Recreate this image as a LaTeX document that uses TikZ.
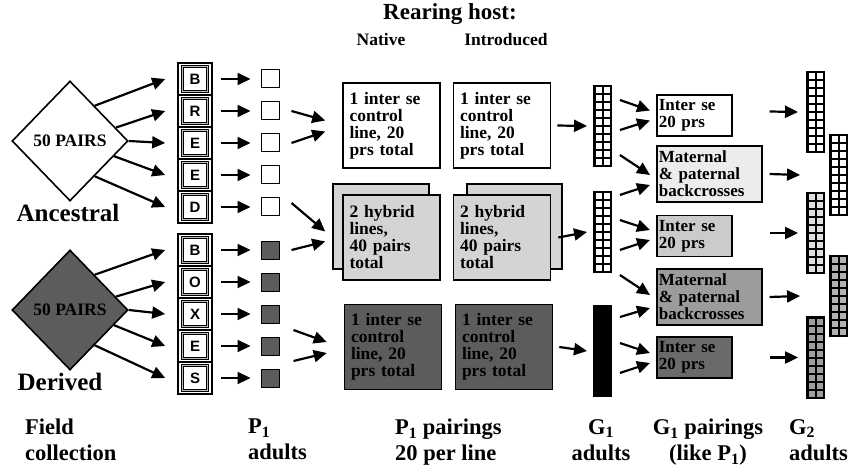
\documentclass[tikz,border=0pt]{standalone}
\usepackage{fontspec}
\setmainfont{Liberation Serif}
\setsansfont{Liberation Sans}
\usepackage{tikz}
\usetikzlibrary{calc}
\usetikzlibrary{arrows.meta}
\usetikzlibrary{shapes.geometric}

\definecolor{darkbox}{HTML}{5C5C5C}
\definecolor{hybridbox}{HTML}{D4D4D4}
\definecolor{backpale}{HTML}{ECECEC}
\definecolor{intergray}{HTML}{CBCBCB}
\definecolor{backmid}{HTML}{9C9C9C}
\definecolor{interdark}{HTML}{6A6A6A}

\tikzset{
  fat/.style={-{Triangle[length=13pt,width=12pt]}, line width=2.2pt},
  pairbox/.style={draw, line width=1.6pt, minimum width=97pt, minimum height=85pt,
    text width=84pt, align=left, inner sep=0pt,
    font=\fontsize{17.5}{17}\selectfont\bfseries},
  crossbox/.style={draw, line width=1.6pt, anchor=west, align=left, inner sep=2pt,
    font=\fontsize{17}{17}\selectfont\bfseries},
  letterbox/.style={draw=black, line width=0.6pt, double=gray!55, double distance=0.9pt,
    minimum width=25pt, minimum height=25pt, inner sep=0pt,
    font=\fontsize{15}{15}\selectfont\sffamily\bfseries},
  sqbox/.style={draw, line width=1pt, minimum size=18pt, inner sep=0pt},
  colbox/.style={fill=black, minimum width=18.5pt, minimum height=82.5pt, inner sep=0pt},
  biglabel/.style={font=\fontsize{22.5}{26}\selectfont\bfseries, inner sep=0pt},
}

% column of 2 x 10 cells: name, centre, cell colour
\newcommand{\cellcol}[3]{%
  \node[colbox] (#1) at (#2) {};
  \foreach \r in {0,...,9} \foreach \c in {0,1}
    \fill[#3] ($(#1.north west)+(2.5+8*\c,2.5+8*\r)$) rectangle +(6,6);
}

\begin{document}
\begin{tikzpicture}[x=1pt,y=-1pt]
\useasboundingbox (0,0) rectangle (850,470);

\node[font=\fontsize{23}{26}\selectfont\bfseries] (rear) at (450,14) {Rearing host:};
\node[font=\fontsize{17.5}{20}\selectfont\bfseries] (nat) at (381,40) {Native};
\node[font=\fontsize{17.5}{20}\selectfont\bfseries] (intro) at (506,40) {Introduced};

% field collection
\node[diamond, draw, line width=1.6pt, minimum width=116pt, minimum height=120pt, inner sep=0pt,
  font=\fontsize{17.5}{18}\selectfont\bfseries] (anc) at (70,141) {50 PAIRS};
\node[diamond, draw, fill=darkbox, line width=1.6pt, minimum width=116pt, minimum height=120pt, inner sep=0pt,
  font=\fontsize{17.5}{18}\selectfont\bfseries] (der) at (70,310) {50 PAIRS};
\node[biglabel, font=\fontsize{25}{28}\selectfont\bfseries] (anclab) at (68,213) {Ancestral};
\node[biglabel, font=\fontsize{25}{28}\selectfont\bfseries] (derlab) at (60,382) {Derived};

\foreach \l [count=\i] in {B,R,E,E,D} {
  \draw[line width=1.2pt] (178,31+32*\i) rectangle +(34,32);
  \node[letterbox] (a\i) at (195,47+32*\i) {\l};
  \node[sqbox] (p\i) at (270,47+32*\i) {};
}
\foreach \l [count=\i] in {B,O,X,E,S} {
  \draw[line width=1.2pt] (178,202+32*\i) rectangle +(34,32);
  \node[letterbox] (d\i) at (195,218+32*\i) {\l};
  \node[sqbox, fill=darkbox] (q\i) at (270,218+32*\i) {};
}

\draw[fat] ($(anc.north)!0.42!(anc.east)$) -- ([xshift=-17pt]a1.west);
\draw[fat] ($(anc.north)!0.78!(anc.east)$) -- ([xshift=-17pt]a2.west);
\draw[fat] (anc.east) -- ([xshift=-17pt]a3.west);
\draw[fat] ($(anc.east)!0.25!(anc.south)$) -- ([xshift=-17pt]a4.west);
\draw[fat] ($(anc.east)!0.58!(anc.south)$) -- ([xshift=-17pt]a5.west);

\draw[fat] ($(der.north)!0.42!(der.east)$) -- ([xshift=-17pt]d1.west);
\draw[fat] ($(der.north)!0.78!(der.east)$) -- ([xshift=-17pt]d2.west);
\draw[fat] (der.east) -- ([xshift=-17pt]d3.west);
\draw[fat] ($(der.east)!0.25!(der.south)$) -- ([xshift=-17pt]d4.west);
\draw[fat] ($(der.east)!0.58!(der.south)$) -- ([xshift=-17pt]d5.west);

\foreach \i in {1,...,5} {
  \draw[fat] ([xshift=13pt]a\i.east) -- ([xshift=-10pt]p\i.west);
  \draw[fat] ([xshift=13pt]d\i.east) -- ([xshift=-10pt]q\i.west);
}

% P1 pairings
\filldraw[fill=hybridbox, line width=1.6pt] (333,184) rectangle (429,269);
\filldraw[fill=hybridbox, line width=1.6pt] (467,184) rectangle (562,269);

\node[pairbox, fill=white] (natA) at (391.5,125.5) {1 inter se\\control\\line, 20\\prs total};
\node[pairbox, fill=white] (intA) at (502,125.5) {1 inter se\\control\\line, 20\\prs total};
\node[pairbox, fill=hybridbox] (natH) at (391.5,237.5) {2 hybrid\\lines,\\40 pairs\\total};
\node[pairbox, fill=hybridbox] (intH) at (502,237.5) {2 hybrid\\lines,\\40 pairs\\total};
\node[pairbox, fill=darkbox] (natD) at (393,347) {1 inter se\\control\\line, 20\\prs total};
\node[pairbox, fill=darkbox] (intD) at (504,347) {1 inter se\\control\\line, 20\\prs total};

\draw[fat] ([xshift=12pt]p2.east) -- ([xshift=-17pt,yshift=5pt]natA.west);
\draw[fat] ([xshift=12pt]p3.east) -- ([xshift=-17pt,yshift=-6pt]natA.west);
\draw[fat] ([xshift=12pt,yshift=4pt]p5.east) -- ([xshift=-17pt,yshift=6pt]natH.west);
\draw[fat] ([xshift=12pt]q1.east) -- ([xshift=-17pt,yshift=-4pt]natH.west);
\draw[fat] ([xshift=14pt,yshift=16pt]q4.east) -- ([xshift=-17pt,yshift=5pt]natD.west);
\draw[fat] ([xshift=14pt,yshift=-15pt]q4.east) -- ([xshift=-17pt,yshift=-6pt]natD.west);

% G1 adults
\cellcol{g1a}{602.5,126}{white}
\cellcol{g1b}{602.5,232}{white}
\node[colbox, minimum height=92pt] (g1c) at (602.5,351) {};

\draw[fat] ([xshift=6pt]intA.east) -- ([xshift=-6pt]g1a.west);
\draw[fat] ([xshift=7pt]intH.east) -- ([xshift=-6pt]g1b.west);
\draw[fat] ([xshift=6pt]intD.east) -- ([xshift=-6pt]g1c.west);

% G1 pairings
\node[crossbox, fill=white, text width=71pt, minimum height=41pt] (ise1) at (656,115.5) {Inter se\\20 prs};
\node[crossbox, fill=backpale, text width=101pt, minimum height=56pt] (mat1) at (656,174) {Maternal\\\& paternal\\backcrosses};
\node[crossbox, fill=intergray, text width=71pt, minimum height=41pt] (ise2) at (656,236) {Inter se\\20 prs};
\node[crossbox, fill=backmid, text width=101pt, minimum height=56pt] (mat2) at (656,297) {Maternal\\\& paternal\\backcrosses};
\node[crossbox, fill=interdark, text width=71pt, minimum height=41pt] (ise3) at (656,357.5) {Inter se\\20 prs};

\draw[fat] ([xshift=8pt,yshift=26pt]g1a.east) -- ([xshift=-6pt,yshift=5pt]ise1.west);
\draw[fat] ([xshift=8pt,yshift=-4pt]g1a.east) -- ([xshift=-6pt,yshift=-5pt]ise1.west);
\draw[fat] ([xshift=8pt,yshift=-29pt]g1a.east) -- ([xshift=-6pt,yshift=-1pt]mat1.west);
\draw[fat] ([xshift=8pt,yshift=37pt]g1b.east) -- ([xshift=-6pt,yshift=-11pt]mat1.west);
\draw[fat] ([xshift=8pt,yshift=12pt]g1b.east) -- ([xshift=-6pt,yshift=6pt]ise2.west);
\draw[fat] ([xshift=8pt,yshift=-18pt]g1b.east) -- ([xshift=-6pt,yshift=-4pt]ise2.west);
\draw[fat] ([xshift=8pt,yshift=-43pt]g1b.east) -- ([xshift=-6pt,yshift=2pt]mat2.west);
\draw[fat] ([xshift=8pt,yshift=34pt]g1c.east) -- ([xshift=-6pt,yshift=-11pt]mat2.west);
\draw[fat] ([xshift=8pt,yshift=8pt]g1c.east) -- ([xshift=-6pt,yshift=4.5pt]ise3.west);
\draw[fat] ([xshift=8pt,yshift=-22pt]g1c.east) -- ([xshift=-6pt,yshift=-5.5pt]ise3.west);

% G2 adults
\cellcol{g2a}{815.5,112}{white}
\cellcol{g2b}{838.5,175}{white}
\cellcol{g2c}{815.5,233}{gray!25}
\cellcol{g2d}{838.5,296}{gray!60}
\cellcol{g2e}{815.5,357.5}{gray!75}

\draw[fat] ([xshift=37pt,yshift=4pt]ise1.east) -- ([xshift=-8pt]g2a.west);
\draw[fat] ([xshift=7pt]mat1.east) -- ([xshift=-29pt]g2b.west);
\draw[fat] ([xshift=37pt,yshift=3pt]ise2.east) -- ([xshift=-8pt]g2c.west);
\draw[fat] ([xshift=7pt]mat2.east) -- ([xshift=-29pt]g2d.west);
\draw[fat] ([xshift=37pt]ise3.east) -- ([xshift=-8pt]g2e.west);

% stages
\node[biglabel, align=left, anchor=north west] (field) at (25,419) {Field\\collection};
\node[biglabel, align=left, anchor=north west] (p1lab) at (248,419) {P\textsubscript{1}\\adults};
\node[biglabel, align=left, anchor=north west] (pairlab) at (395,419) {P\textsubscript{1} pairings\\20 per line};
\node[biglabel, align=center, anchor=north] (g1lab) at (601,419) {G\textsubscript{1}\\adults};
\node[biglabel, align=center, anchor=north] (g1pair) at (708,419) {G\textsubscript{1} pairings\\(like P\textsubscript{1})};
\node[biglabel, align=left, anchor=north west] (g2lab) at (789,419) {G\textsubscript{2}\\adults};
\end{tikzpicture}
\end{document}
